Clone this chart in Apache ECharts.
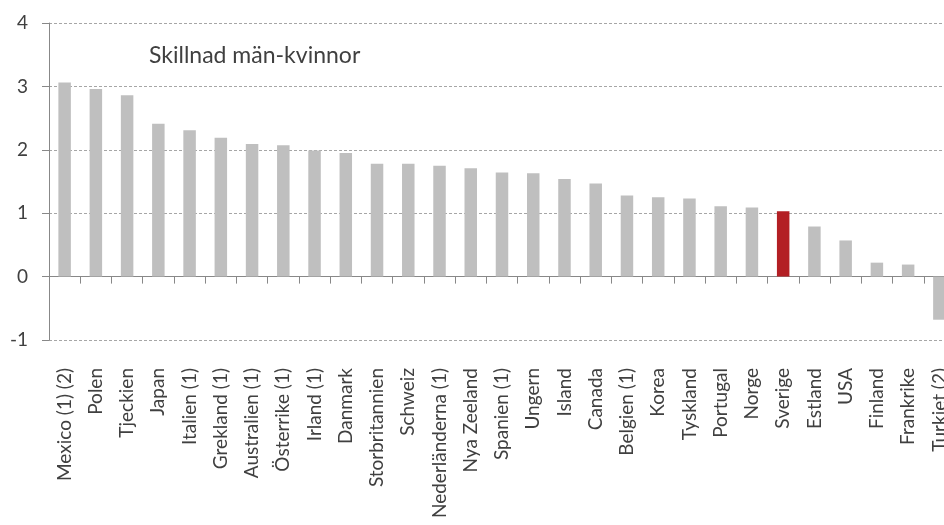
<!DOCTYPE html>
<html>
<head>
<meta charset="utf-8">
<script src="https://cdn.jsdelivr.net/npm/echarts@6/dist/echarts.min.js"></script>
<style>
html,body{margin:0;padding:0;background:#fff;overflow:hidden;width:944px;height:525px;}
#c{width:955px;height:525px;}
</style>
</head>
<body>
<div id="c"></div>
<script>
const categories = ["Mexico (1) (2)","Polen","Tjeckien","Japan","Italien (1)","Grekland (1)","Australien (1)","Österrike (1)","Irland (1)","Danmark","Storbritannien","Schweiz","Nederländerna (1)","Nya Zeeland","Spanien (1)","Ungern","Island","Canada","Belgien (1)","Korea","Tyskland","Portugal","Norge","Sverige","Estland","USA","Finland","Frankrike","Turkiet (2)"];
const values = [3.06,2.96,2.86,2.41,2.31,2.19,2.09,2.07,1.99,1.95,1.78,1.78,1.75,1.71,1.64,1.63,1.54,1.47,1.28,1.25,1.23,1.11,1.09,1.03,0.79,0.57,0.22,0.19,-0.68];
const highlighted = ["Sverige"];
const yTicks = [-1,0,1,2,3,4];
const chartTitle = "Skillnad män-kvinnor";

const FONT = "Lato";
const chart = echarts.init(document.getElementById('c'), null, {renderer:'canvas'});
chart.setOption({
  animation:false,
  backgroundColor:'#ffffff',
  title:{
    text:chartTitle, left:149, top:44, padding:0,
    textStyle:{fontFamily:FONT,fontSize:23,fontWeight:'normal',color:'#404040'}
  },
  grid:{left:49,right:0,top:23,bottom:185,containLabel:false},
  xAxis:[{
    type:'category', data:categories, position:'bottom',
    axisLine:{show:true,onZero:true,lineStyle:{color:'#888888',width:1}},
    axisTick:{show:true,length:7,interval:0,lineStyle:{color:'#888888'}},
    axisLabel:{show:false},
    splitLine:{show:false}
  },{
    type:'category', data:categories, position:'bottom',
    axisLine:{show:false,onZero:false},
    axisTick:{show:false},
    axisLabel:{show:true,interval:0,rotate:90,margin:28,fontFamily:FONT,fontSize:19,color:'#404040'},
    splitLine:{show:false}
  }],
  yAxis:{
    type:'value', min:yTicks[0], max:yTicks[yTicks.length-1], interval:1,
    axisLine:{show:true,lineStyle:{color:'#888888',width:1}},
    axisTick:{show:true,length:7,lineStyle:{color:'#888888'}},
    axisLabel:{margin:21,fontFamily:FONT,fontSize:19,color:'#404040'},
    splitLine:{show:true,lineStyle:{color:'#a6a6a6',type:[3,2],width:1}}
  },
  series:[{
    type:'bar', xAxisIndex:0, barWidth:'40%',
    data:values.map((v,i)=>({value:v,itemStyle:{color:highlighted.includes(categories[i])?'#b31f24':'#bfbfbf'}}))
  }]
});
</script>
</body>
</html>
